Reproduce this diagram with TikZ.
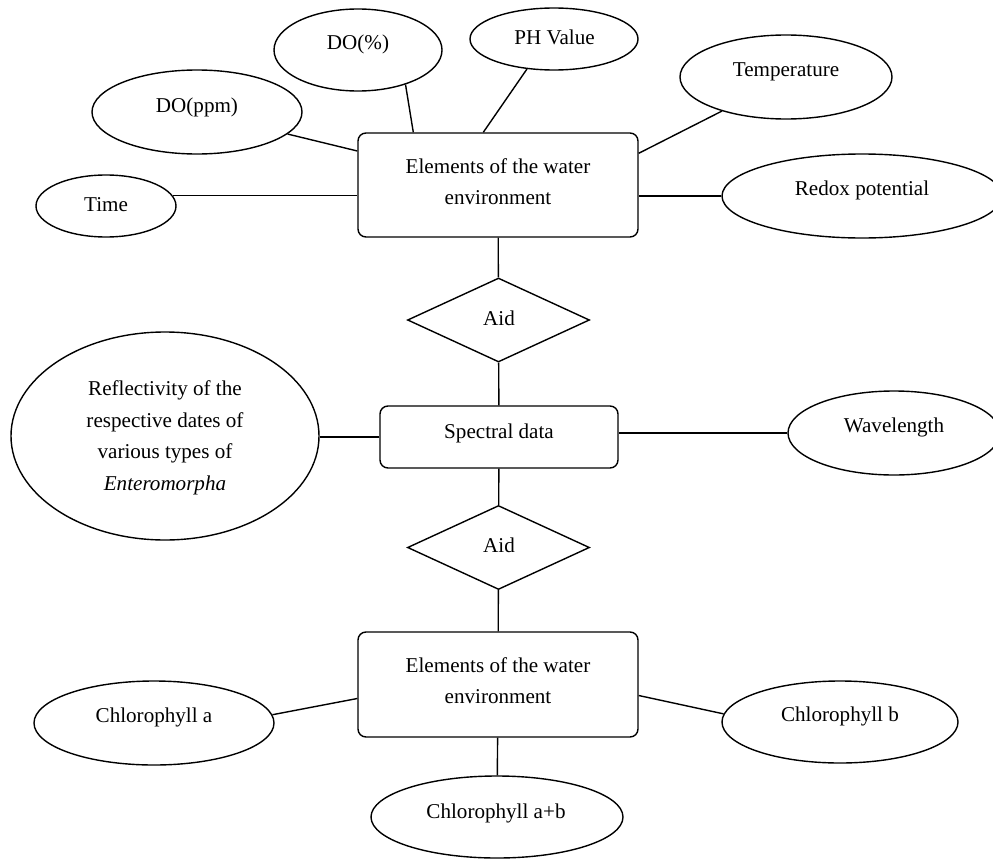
\documentclass[tikz,border=0pt]{standalone}
\usepackage{fontspec}
\setmainfont{Liberation Serif}
\usetikzlibrary{shapes.geometric}
\begin{document}
\begin{tikzpicture}[x=1pt,y=-1pt, line width=1.4pt,
  ell/.style={draw, ellipse, inner sep=0},
  rbox/.style={draw, rectangle, rounded corners=8pt, inner sep=0},
  dia/.style={draw, diamond, inner sep=0},
  txt/.style={font=\fontsize{21.1}{31.5}\selectfont, inner sep=0, align=center},
  link/.style={draw}]
\useasboundingbox (0,0) rectangle (993,859);
\clip (0,0) rectangle (993,859);
\fill[white] (0,0) rectangle (993,859);

% shapes
\node[rbox, minimum width=280pt, minimum height=104pt] (box1) at (498,185) {};
\node[rbox, minimum width=238pt, minimum height=62pt] (spec) at (499,437) {};
\node[rbox, minimum width=280pt, minimum height=105pt] (box2) at (498,684.5) {};
\node[dia, minimum width=182pt, minimum height=84pt] (aid1) at (498.5,320) {};
\node[dia, minimum width=182pt, minimum height=84pt] (aid2) at (498.5,547.5) {};

\node[ell, minimum width=140pt, minimum height=62pt] (time) at (106,206) {};
\node[ell, minimum width=210pt, minimum height=84pt] (ppm) at (197,112) {};
\node[ell, minimum width=168pt, minimum height=82pt] (pct) at (358,50) {};
\node[ell, minimum width=168pt, minimum height=62pt] (ph) at (554,39) {};
\node[ell, minimum width=212pt, minimum height=84pt] (temp) at (786,77) {};
\node[ell, minimum width=280pt, minimum height=84pt] (redox) at (862,196) {};
\node[ell, minimum width=308pt, minimum height=208pt] (refl) at (165,436) {};
\node[ell, minimum width=212pt, minimum height=84pt] (wave) at (894,433) {};
\node[ell, minimum width=240pt, minimum height=84pt] (chla) at (154,723) {};
\node[ell, minimum width=236pt, minimum height=82pt] (chlb) at (840,722) {};
\node[ell, minimum width=252pt, minimum height=82pt] (chab) at (497,817) {};

% texts
\node[txt] (box1T) at (498,181.5) {Elements of the water\\environment};
\node[txt, anchor=base] (specT) at (499,438) {Spectral data};
\node[txt] (box2T) at (498,680.5) {Elements of the water\\environment};
\node[txt, anchor=base] (aid1T) at (499,325) {Aid};
\node[txt, anchor=base] (aid2T) at (499,552) {Aid};
\node[txt, anchor=base] (timeT) at (106,211) {Time};
\node[txt, anchor=base] (ppmT) at (197,112) {DO(ppm)};
\node[txt, anchor=base] (pctT) at (358,49) {DO(\%)};
\node[txt, anchor=base] (phT) at (554.5,45) {PH Value};
\node[txt, anchor=base] (tempT) at (786,77) {Temperature};
\node[txt, anchor=base] (redoxT) at (862,195) {Redox potential};
\node[txt] (reflT) at (165,437.7) {Reflectivity of the\\respective dates of\\various types of\\\textit{Enteromorpha}};
\node[txt, anchor=base] (waveT) at (894,432) {Wavelength};
\node[txt, anchor=base] (chlaT) at (154,722) {Chlorophyll a};
\node[txt, anchor=base] (chlbT) at (840,721) {Chlorophyll b};
\node[txt, anchor=base] (chabT) at (496,818) {Chlorophyll a+b};

% connectors
\draw (time.9) -- (time.9 -| box1.west);
\draw (ppm) -- (box1);
\draw (pct.-36.5) -- ([xshift=56pt]box1.north west);
\draw (ph.-132) -- ([xshift=126pt]box1.north west);
\draw (temp.208.7) -- ([yshift=-21pt]box1.north east);
\draw (redox.west) -- (redox.west -| box1.east);
\draw (box1) -- (aid1);
\draw (aid1) -- (spec);
\draw (spec.west) -- (spec.west -| refl.east);
\draw (wave.west) -- (wave.west -| spec.east);
\draw (spec) -- (aid2);
\draw (aid2) -- (box2);
\draw (chla.4) -- ([yshift=-14pt]box2.west);
\draw (chlb.176.6) -- ([yshift=-11pt]box2.east);
\draw (box2) -- (chab);
\end{tikzpicture}
\end{document}
